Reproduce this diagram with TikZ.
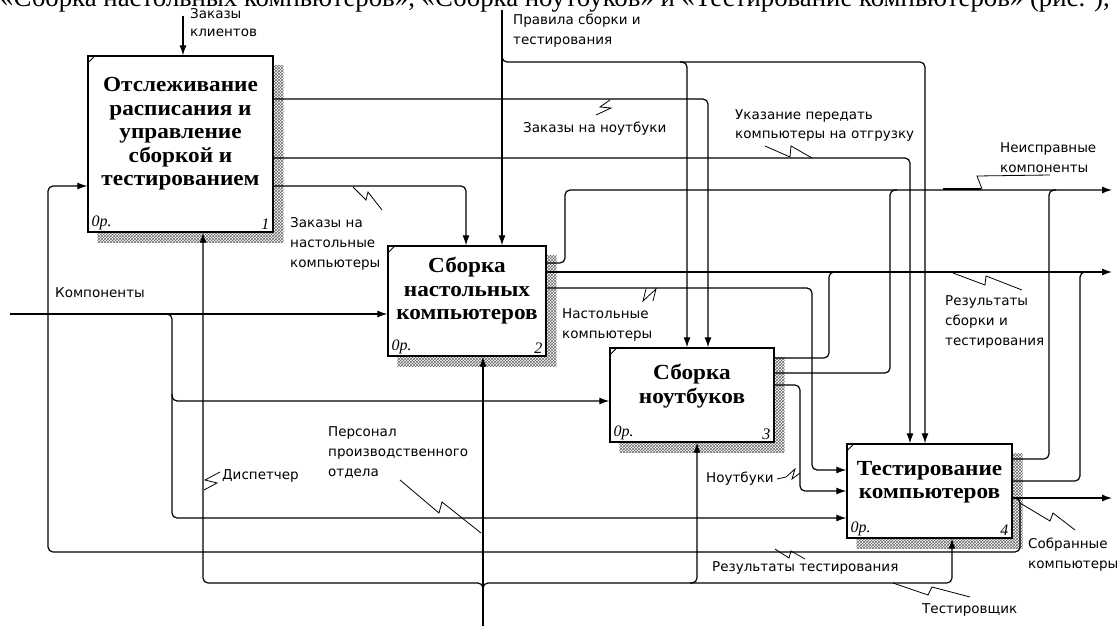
\documentclass[tikz,border=0pt]{standalone}
\usepackage{fontspec}
\setmainfont{Liberation Serif}
\newfontfamily\lblfont{DejaVu Sans}
\newfontfamily\ttlfont{Liberation Serif}[FakeStretch=1.08]
\usetikzlibrary{arrows.meta,patterns,backgrounds,calc}
\begin{document}
\begin{tikzpicture}[x=1pt,y=-1pt,
  box/.style={draw,line width=1.3pt,fill=white,inner sep=0pt},
  ttl/.style={font=\ttlfont\fontsize{21.5}{23.5}\selectfont\bfseries,align=center,inner sep=0pt},
  flow/.style={line width=1.2pt,rounded corners=5pt},
  arr/.style={flow,-{Latex[length=10pt,width=7pt]}},
  lbl/.style={font=\lblfont\fontsize{13.5}{20}\selectfont,align=left,inner sep=0pt,anchor=base west},
  sq/.style={line width=0.8pt},
  shd/.style={pattern=crosshatch,pattern color=black!60},
  cnr/.style={font=\fontsize{16}{16}\selectfont\itshape,inner sep=0pt}
]
\useasboundingbox (0,0) rectangle (1120,626);
\node[anchor=base west,inner sep=0pt,font=\fontsize{26.8}{26.8}\selectfont] (cap) at (0,7) {«Сборка настольных компьютеров», «Сборка ноутбуков» и «Тестирование компьютеров» (рис. ),};

% boxes
\node[box,minimum width=185pt,minimum height=176pt] (b1) at (180.5,144) {};
\node[box,minimum width=158pt,minimum height=110pt] (b2) at (467,301) {};
\node[box,minimum width=164pt,minimum height=94pt] (b3) at (692,395) {};
\node[box,minimum width=165pt,minimum height=94pt] (b4) at (929.5,491) {};
\begin{scope}[on background layer]
\foreach \b in {b1,b2,b3,b4}
  \fill[shd] ($(\b.north west)+(10,10)$) rectangle ($(\b.south east)+(10,10)$);
\end{scope}
\node[ttl] (t1) at ($(b1.center)+(0,-10)$) {Отслеживание\\расписания и\\управление\\сборкой и\\тестированием};
\node[ttl] (t2) at ($(b2.center)+(0,-10)$) {Сборка\\настольных\\компьютеров};
\node[ttl] (t3) at ($(b3.center)+(0,-9)$) {Сборка\\ноутбуков};
\node[ttl] (t4) at ($(b4.center)+(0,-9)$) {Тестирование\\компьютеров};
\foreach \b/\n in {b1/1,b2/2,b3/3,b4/4}{
  \node[cnr,anchor=south west] (\b op) at ($(\b.south west)+(4,-3)$) {0р.};
  \node[cnr,anchor=south east] (\b nr) at ($(\b.south east)+(-4,-3)$) {\n};
  \draw[line width=0.8pt] ($(\b.north west)+(1,7)$) -- ($(\b.north west)+(7,1)$);
}

% free ends
\coordinate (inZK) at (183,16);
\coordinate (inPR) at (502,10);
\coordinate (inK) at (10,314);
\coordinate (outN) at (1112,190);
\coordinate (outR) at (1112,272);
\coordinate (outS) at (1112,498);
\coordinate (mP) at (483,626);

% controls
\draw[arr] (inZK) -- (inZK |- b1.north);
\draw[arr] (inPR) -- (inPR |- b2.north);
\draw[arr] (502,55) -- (502,62) -- (925,62) -- (925,0 |- b4.north);
\draw[arr] (680,62) -- (687,62) -- (687,0 |- b3.north);
\draw[arr] (b1.east |- 0,99) -- (708,99) -- (708,0 |- b3.north);
\draw[arr] (b1.east |- 0,158) -- (910,158) -- (910,0 |- b4.north);
\draw[arr] (b1.east |- 0,186) -- (466,186) -- (466,0 |- b2.north);

% feedback
\draw[arr] (b4.east |- 0,498) -- (1020,498) -- (1020,552) -- (48,552) -- (48,186) -- (b1.west |- 0,186);

% inputs
\draw[arr] (inK) -- (inK -| b2.west);
\draw[arr] (162,314) -- (172,314) -- (172,518) -- (b4.west |- 0,518);
\draw[arr] (172,394) -- (172,401) -- (b3.west |- 0,401);

% box 2 outputs
\draw[arr] (b2.east |- 0,263) -- (565,263) -- (565,190) -- (outN);
\draw[arr] (b2.east |- 0,272) -- (outR);
\draw[arr] (b2.east |- 0,288) -- (812,288) -- (812,470) -- (b4.west |- 0,470);

% box 3 outputs
\draw[flow] (b3.east |- 0,358) -- (829,358) -- (829,272) -- (836,272);
\draw[flow] (b3.east |- 0,373) -- (890,373) -- (890,190) -- (897,190);
\draw[arr] (b3.east |- 0,385) -- (800,385) -- (800,491) -- (b4.west |- 0,491);

% box 4 outputs
\draw[flow] (b4.east |- 0,459) -- (1049,459) -- (1049,190) -- (1056,190);
\draw[flow] (b4.east |- 0,481) -- (1080,481) -- (1080,272) -- (1087,272);
\draw[arr] (b4.east |- 0,498) -- (outS);

% mechanisms
\draw[arr] (mP) -- (mP |- b2.south);
\draw[arr] (483,590) -- (483,583) -- (203,583) -- (203,0 |- b1.south);
\draw[arr] (483,590) -- (483,583) -- (952,583) -- (952,0 |- b4.south);
\draw[arr] (690,583) -- (697,583) -- (697,0 |- b3.south);

% labels (anchor = baseline of last line)
\node[lbl,font=\lblfont\fontsize{13.5}{18}\selectfont] (lZK) at (190,37) {Заказы\\клиентов};
\node[lbl] (lPR) at (513,45) {Правила сборки и\\тестирования};
\node[lbl] (lZN) at (523,132) {Заказы на ноутбуки};
\node[lbl] (lUK) at (735,139) {Указание передать\\компьютеры на отгрузку};
\node[lbl] (lNK) at (1000,172) {Неисправные\\компоненты};
\node[lbl] (lZD) at (290,267) {Заказы на\\настольные\\компьютеры};
\node[lbl] (lKM) at (55,297) {Компоненты};
\node[lbl] (lNC) at (562,338) {Настольные\\компьютеры};
\node[lbl] (lRS) at (945,345) {Результаты\\сборки и\\тестирования};
\node[lbl] (lNB) at (706,482) {Ноутбуки};
\node[lbl] (lDS) at (222,479) {Диспетчер};
\node[lbl] (lPS) at (328,476) {Персонал\\производственного\\отдела};
\node[lbl] (lRT) at (712,571) {Результаты тестирования};
\node[lbl] (lTS) at (922,613) {Тестировщик};
\node[lbl] (lSK) at (1028,568) {Собранные\\компьютеры};

% squiggles
\draw[sq] (610,100) -- (600,107) -- (611,108) -- (596,115);
\draw[sq] (353,187) -- (366,200) -- (368,192) -- (382,210);
\draw[sq] (765,146) -- (790,157) -- (791,146) -- (812,158);
\draw[sq] (1050,175) -- (977,176) -- (982,189);
\draw[line width=2pt] (943,189) -- (981,189);
\draw[sq] (953,273) -- (985,285) -- (986,276) -- (1022,290);
\draw[sq] (646,289) -- (643,301) -- (656,289) -- (653,301);
\draw[sq] (777,479) -- (786,477) -- (795,469) -- (792,479) -- (800,473);
\draw[sq] (220,472) -- (205,480) -- (217,483) -- (204,490);
\draw[sq] (400,480) -- (439,513) -- (442,502) -- (481,533);
\draw[sq] (775,549) -- (789,558) -- (791,551) -- (805,559);
\draw[sq] (893,583) -- (928,595) -- (932,587) -- (970,597);
\draw[sq] (1020,503) -- (1050,521) -- (1053,513) -- (1075,530);
\end{tikzpicture}
\end{document}
